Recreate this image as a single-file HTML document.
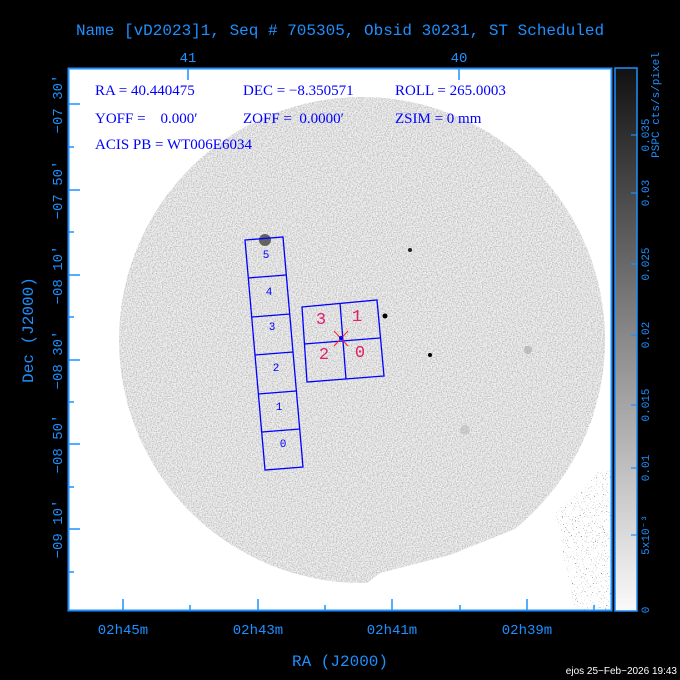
<!DOCTYPE html>
<html><head><style>
html,body{margin:0;padding:0;background:#000;}
svg{display:block;}
text{font-family:"Liberation Mono","DejaVu Sans Mono",monospace;}
</style></head><body>
<svg width="680" height="680" viewBox="0 0 680 680" xmlns="http://www.w3.org/2000/svg">
<defs>
<filter id="noise" x="0" y="0" width="100%" height="100%">
<feTurbulence type="fractalNoise" baseFrequency="0.8" numOctaves="2" seed="3" result="t"/>
<feColorMatrix type="matrix" values="0 0 0 0 0  0 0 0 0 0  0 0 0 0 0  1.6 0 0 0 -0.6" in="t" result="a"/>
<feComponentTransfer in="a" result="b"><feFuncA type="linear" slope="0.35" intercept="0"/></feComponentTransfer>
<feComposite in="b" in2="SourceGraphic" operator="in"/>
</filter>
<filter id="sparse" x="0" y="0" width="100%" height="100%">
<feTurbulence type="fractalNoise" baseFrequency="0.9" numOctaves="1" seed="7" result="t"/>
<feColorMatrix type="matrix" values="0 0 0 0 0  0 0 0 0 0  0 0 0 0 0  6 0 0 0 -3.9" in="t" result="a"/>
<feComposite in="a" in2="SourceGraphic" operator="in"/>
</filter>
<clipPath id="plot"><rect x="68" y="68" width="544" height="543"/></clipPath>
<clipPath id="field"><circle cx="362" cy="340" r="243"/></clipPath>
<linearGradient id="cb" x1="0" y1="1" x2="0" y2="0">
<stop offset="0" stop-color="#fafafa"/><stop offset="0.5" stop-color="#8a8a8a"/><stop offset="1" stop-color="#111"/>
</linearGradient>
</defs>
<text x="340" y="35" fill="#1e90ff" font-size="16" text-anchor="middle">Name [vD2023]1, Seq # 705305, Obsid 30231, ST Scheduled</text>
<text x="188" y="62" fill="#1e90ff" font-size="14" text-anchor="middle">41</text>
<text x="459" y="62" fill="#1e90ff" font-size="14" text-anchor="middle">40</text>
<rect x="68" y="68" width="544" height="543" fill="#fff"/>
<g clip-path="url(#plot)">
<g clip-path="url(#field)">
<rect x="68" y="68" width="544" height="543" fill="#f0f0f0"/>
<g filter="url(#noise)"><rect x="68" y="68" width="544" height="543" fill="#000"/></g>
</g>
<path d="M330 611 L380 573 L450 555 L525 525 L555 513 L612 470 L612 611 Z" fill="#fff"/>
<g filter="url(#sparse)"><path d="M555 513 L600 470 L612 470 L612 611 L575 611 Z" fill="#333"/></g>
<circle cx="265" cy="240" r="6" fill="#444" opacity="0.8"/>
<circle cx="385" cy="316" r="2.5" fill="#000"/>
<circle cx="430" cy="355" r="2" fill="#000"/>
<circle cx="410" cy="250" r="2" fill="#222"/>
<circle cx="528" cy="350" r="4" fill="#999" opacity="0.5"/>
<circle cx="465" cy="430" r="5" fill="#aaa" opacity="0.4"/>
</g>
<rect x="68.5" y="68.5" width="543" height="542" fill="none" stroke="#1e90ff" stroke-width="2"/>
<g stroke="#1e90ff" stroke-width="1.5">
<line x1="68" y1="104" x2="80" y2="104"/><line x1="68" y1="190" x2="80" y2="190"/><line x1="68" y1="275" x2="80" y2="275"/><line x1="68" y1="360" x2="80" y2="360"/><line x1="68" y1="444" x2="80" y2="444"/><line x1="68" y1="529" x2="80" y2="529"/>
<line x1="68" y1="147" x2="74" y2="147"/><line x1="68" y1="232" x2="74" y2="232"/><line x1="68" y1="317" x2="74" y2="317"/><line x1="68" y1="402" x2="74" y2="402"/><line x1="68" y1="487" x2="74" y2="487"/><line x1="68" y1="572" x2="74" y2="572"/>
<line x1="123" y1="611" x2="123" y2="599"/><line x1="258" y1="611" x2="258" y2="599"/><line x1="392" y1="611" x2="392" y2="599"/><line x1="527" y1="611" x2="527" y2="599"/>
<line x1="190" y1="611" x2="190" y2="605"/><line x1="325" y1="611" x2="325" y2="605"/><line x1="460" y1="611" x2="460" y2="605"/><line x1="594" y1="611" x2="594" y2="605"/>
<line x1="188" y1="68" x2="188" y2="80"/><line x1="459" y1="68" x2="459" y2="80"/>
</g>
<g fill="#1e90ff" font-size="14" text-anchor="middle">
<text transform="translate(62,104) rotate(-90)">−07 30′</text>
<text transform="translate(62,190) rotate(-90)">−07 50′</text>
<text transform="translate(62,275) rotate(-90)">−08 10′</text>
<text transform="translate(62,360) rotate(-90)">−08 30′</text>
<text transform="translate(62,444) rotate(-90)">−08 50′</text>
<text transform="translate(62,529) rotate(-90)">−09 10′</text>
<text transform="translate(33,330) rotate(-90)" font-size="16">Dec (J2000)</text>
<text x="123" y="634">02h45m</text><text x="258" y="634">02h43m</text><text x="392" y="634">02h41m</text><text x="527" y="634">02h39m</text>
<text x="340" y="666" font-size="16">RA (J2000)</text>
</g>
<g fill="#0000ff" font-size="15">
<text x="95" y="95" style="font-family:'Liberation Serif',serif">RA = 40.440475</text>
<text x="243" y="95" style="font-family:'Liberation Serif',serif">DEC = −8.350571</text>
<text x="395" y="95" style="font-family:'Liberation Serif',serif">ROLL = 265.0003</text>
<text x="95" y="123" style="font-family:'Liberation Serif',serif">YOFF =&#160;&#160;&#160; 0.000′</text>
<text x="243" y="123" style="font-family:'Liberation Serif',serif">ZOFF =&#160; 0.0000′</text>
<text x="395" y="123" style="font-family:'Liberation Serif',serif">ZSIM = 0 mm</text>
<text x="95" y="149" style="font-family:'Liberation Serif',serif">ACIS PB = WT006E6034</text>
</g>
<g fill="none" stroke="#0000ff" stroke-width="1.3">
<polygon points="245,240 283,237 303,467 265,470"/>
<line x1="248" y1="278" x2="286" y2="275"/>
<line x1="252" y1="317" x2="290" y2="314"/>
<line x1="255" y1="355" x2="293" y2="352"/>
<line x1="258" y1="394" x2="296" y2="391"/>
<line x1="262" y1="432" x2="300" y2="429"/>
<polygon points="302,307 377,300 384,376 307,382"/>
<line x1="340" y1="303" x2="346" y2="379"/>
<line x1="304" y1="344" x2="380" y2="338"/>
</g>
<g fill="#0000ff" font-size="11" text-anchor="middle" style="font-family:'Liberation Serif',serif">
<text x="266" y="258">5</text><text x="269" y="295">4</text><text x="272" y="330">3</text><text x="276" y="371">2</text><text x="279" y="410">1</text><text x="283" y="447">0</text>
</g>
<g fill="#e0206a" font-size="17" text-anchor="middle" style="font-family:'Liberation Serif',serif">
<text x="321" y="324">3</text><text x="357" y="321">1</text><text x="324" y="359">2</text><text x="360" y="357">0</text>
</g>
<g stroke="#ff2020" stroke-width="1"><line x1="334" y1="331" x2="348" y2="346"/><line x1="348" y1="331" x2="334" y2="346"/></g>
<circle cx="341" cy="338" r="2" fill="#0000ff"/>
<rect x="615" y="68" width="22" height="543" fill="url(#cb)" stroke="#1e90ff" stroke-width="1.5"/>
<g stroke="#1e90ff" stroke-width="1.2">
<line x1="631" y1="135" x2="637" y2="135"/><line x1="631" y1="193" x2="637" y2="193"/><line x1="631" y1="264" x2="637" y2="264"/><line x1="631" y1="335" x2="637" y2="335"/><line x1="631" y1="405" x2="637" y2="405"/><line x1="631" y1="468" x2="637" y2="468"/><line x1="631" y1="535" x2="637" y2="535"/>
</g>
<g fill="#1e90ff" font-size="11" text-anchor="middle">
<text transform="translate(649,135) rotate(-90)">0.035</text>
<text transform="translate(649,193) rotate(-90)">0.03</text>
<text transform="translate(649,264) rotate(-90)">0.025</text>
<text transform="translate(649,335) rotate(-90)">0.02</text>
<text transform="translate(649,405) rotate(-90)">0.015</text>
<text transform="translate(649,468) rotate(-90)">0.01</text>
<text transform="translate(649,535) rotate(-90)">5x10⁻³</text>
<text transform="translate(649,610) rotate(-90)">0</text>
<text transform="translate(659,105) rotate(-90)">PSPC cts/s/pixel</text>
</g>
<text x="677" y="674" fill="#fff" font-size="10" text-anchor="end" style="font-family:'Liberation Sans',sans-serif">ejos 25−Feb−2026 19:43</text>
</svg>
</body></html>
